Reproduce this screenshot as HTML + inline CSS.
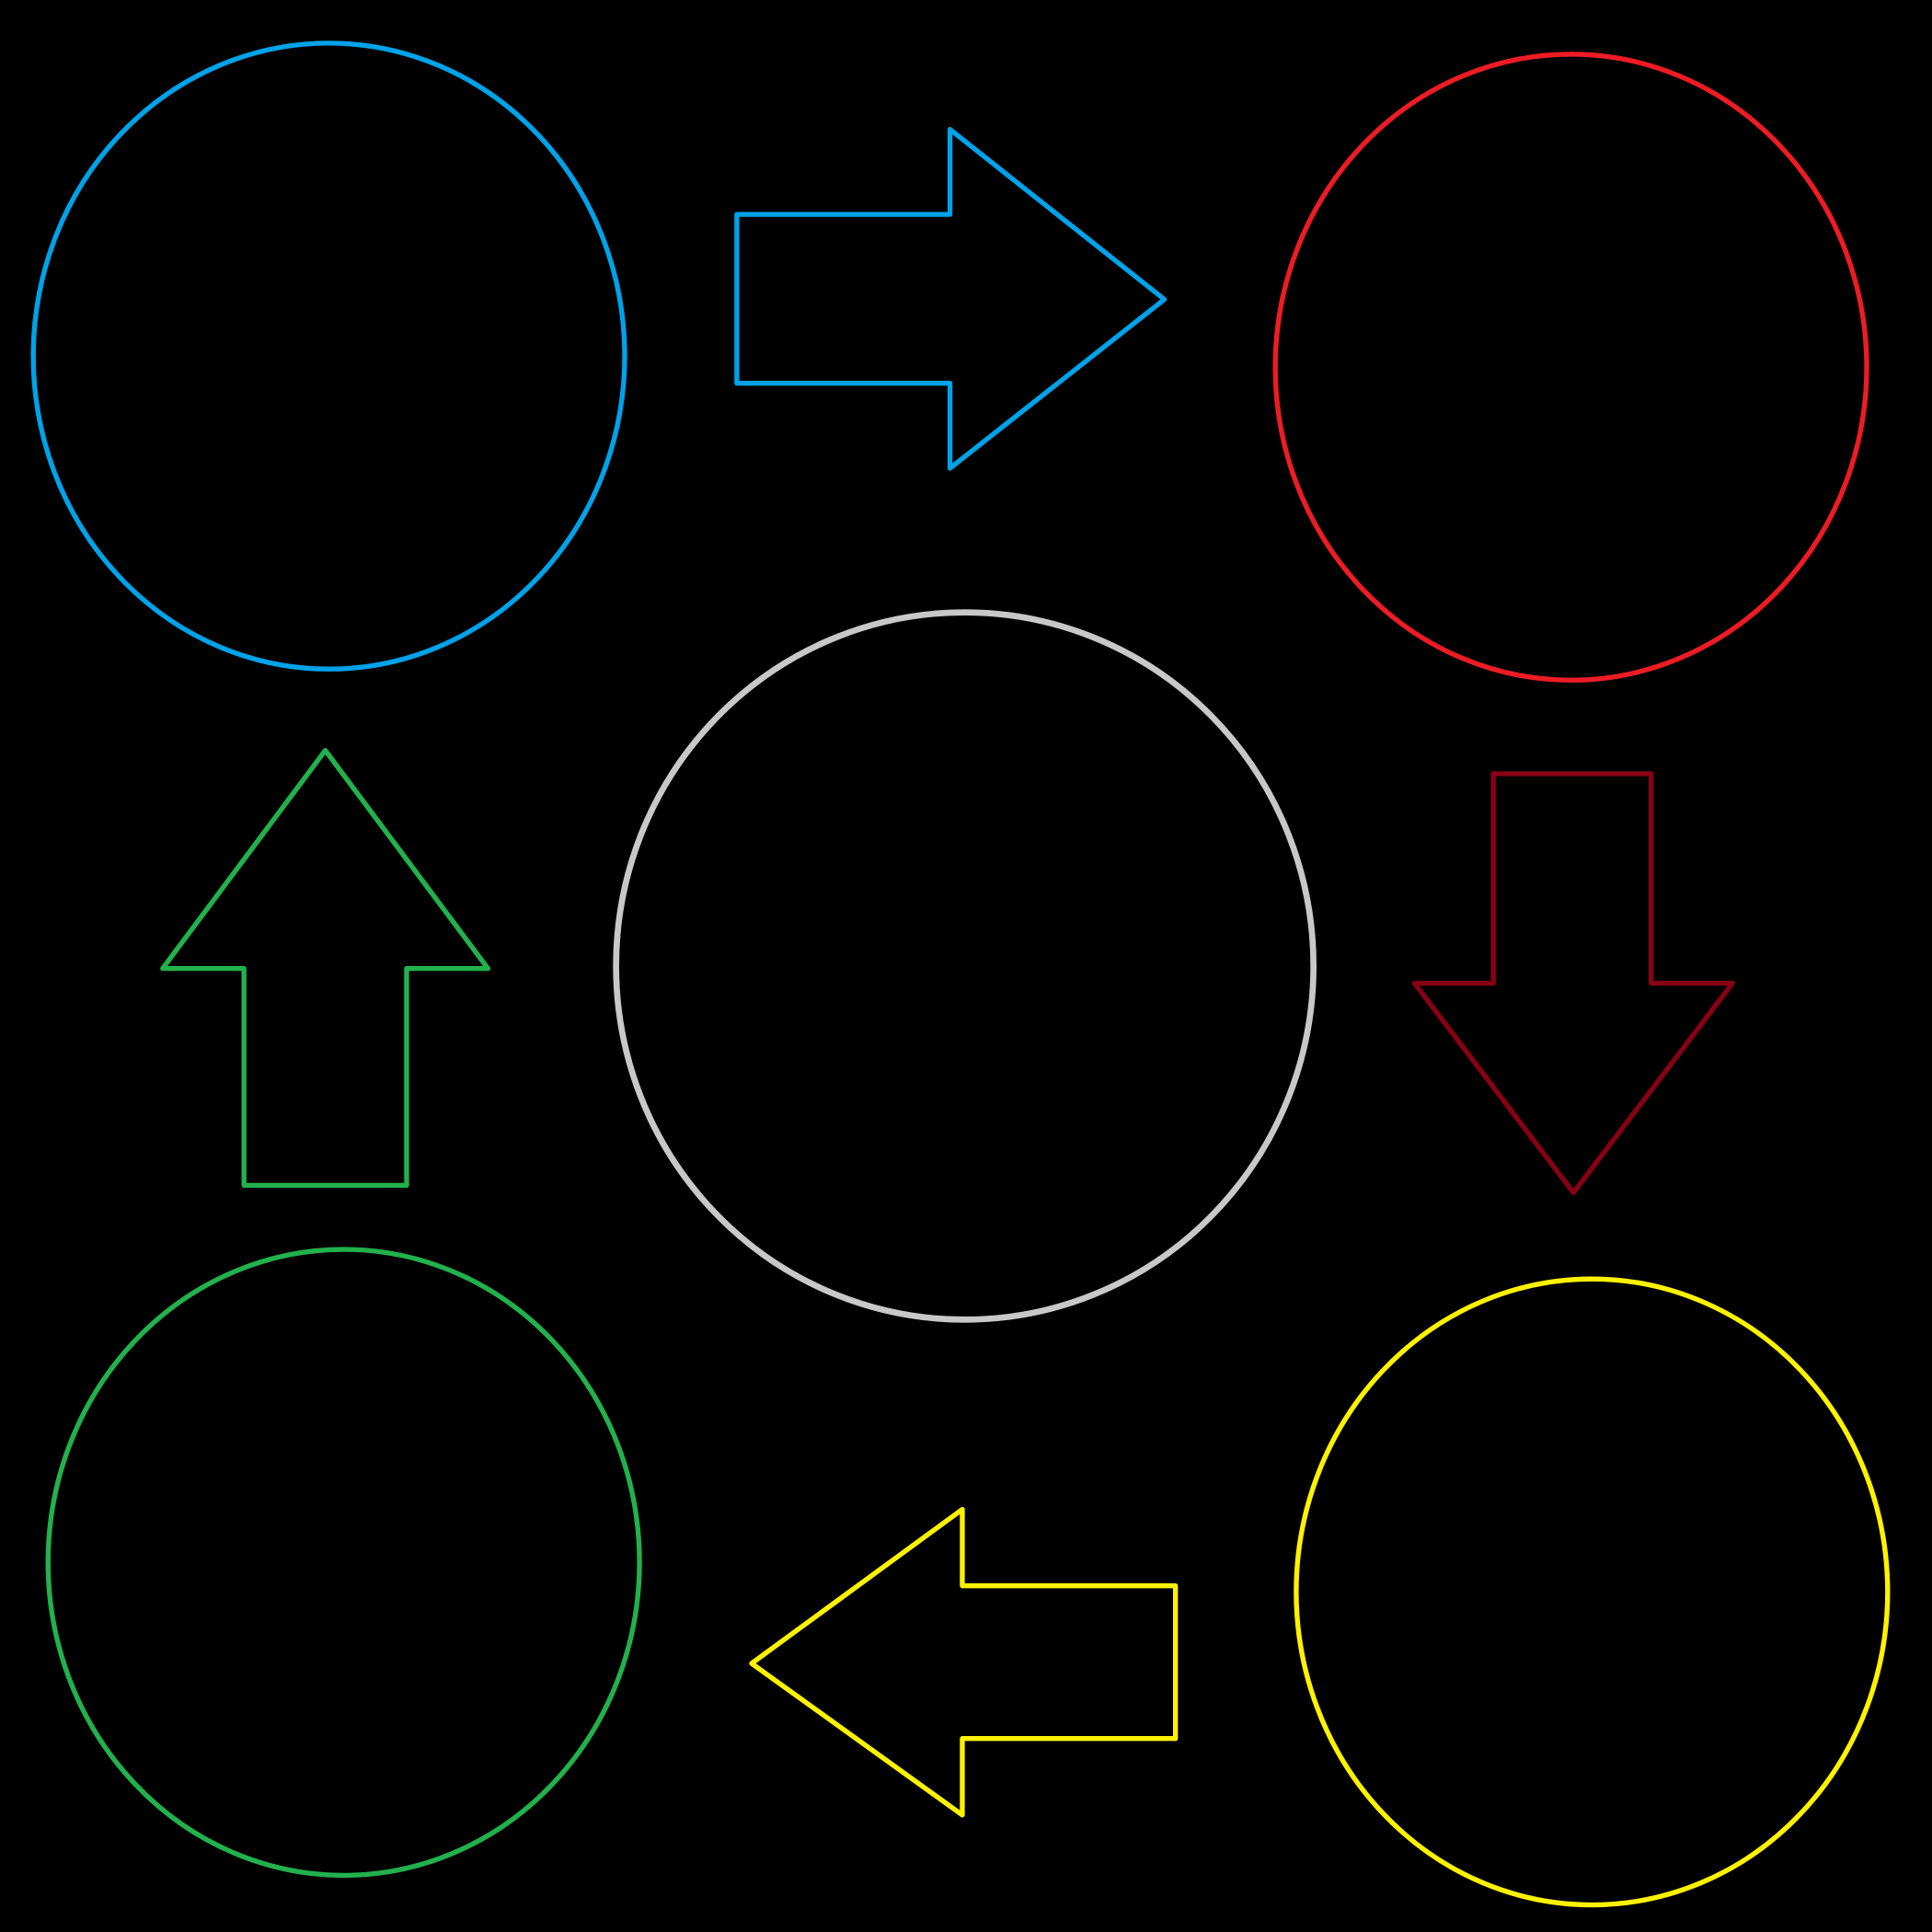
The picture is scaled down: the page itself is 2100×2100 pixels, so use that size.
<!DOCTYPE html>
<html>
<head>
<meta charset="utf-8">
<style>
  html, body { margin:0; padding:0; background:#000; }
  svg { display:block; }
</style>
</head>
<body>
<svg width="2100" height="2100" viewBox="0 0 1568 1568" xmlns="http://www.w3.org/2000/svg">
  <rect x="0" y="0" width="1568" height="1568" fill="#000"/>
  <g fill="none" stroke-width="4" stroke-linejoin="round">
    <ellipse cx="267" cy="289" rx="240" ry="254" stroke="#00A2E8"/>
    <ellipse cx="1275" cy="298" rx="240" ry="254" stroke="#ED1C24"/>
    <ellipse cx="783" cy="784" rx="283" ry="287" stroke="#C8C8C8" stroke-width="5"/>
    <ellipse cx="279" cy="1268" rx="240" ry="254" stroke="#22B14C"/>
    <ellipse cx="1292" cy="1292" rx="240" ry="254" stroke="#FFF200"/>
    <polygon points="598,174 771,174 771,105 945,243 771,380 771,311 598,311" stroke="#00A2E8"/>
    <polygon points="1212,628 1340,628 1340,798 1406,798 1277,968 1148,798 1212,798" stroke="#880015"/>
    <polygon points="264,609 396,786 330,786 330,962 198,962 198,786 132,786" stroke="#22B14C"/>
    <polygon points="610,1350 781,1225 781,1287 954,1287 954,1411 781,1411 781,1473" stroke="#FFF200"/>
  </g>
</svg>
</body>
</html>
